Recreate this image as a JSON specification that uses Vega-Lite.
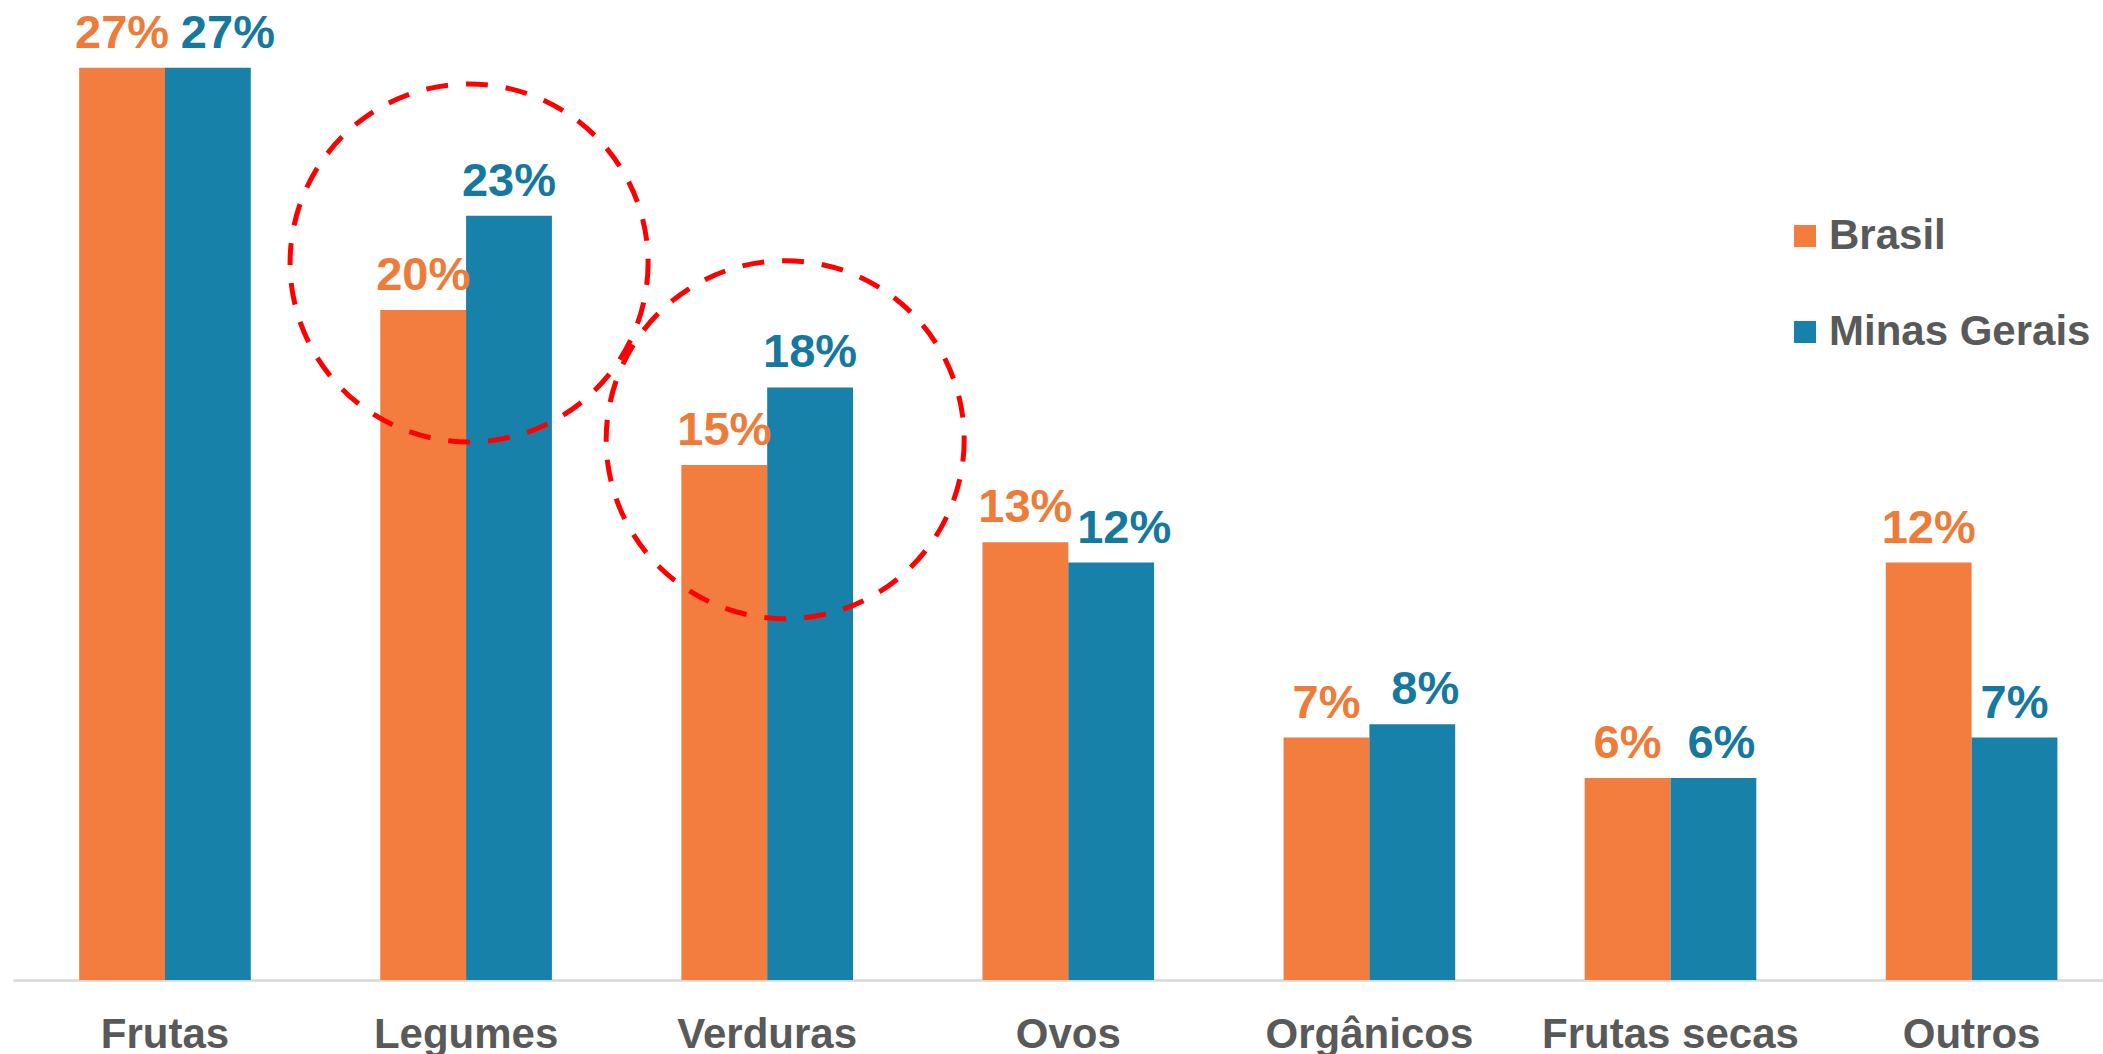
{
  "$schema": "https://vega.github.io/schema/vega-lite/v6.json",
  "width": 2090,
  "height": 980,
  "autosize": {"type": "none"},
  "padding": {"left": 13, "top": 0, "right": 0, "bottom": 74},
  "background": "#FFFFFF",
  "config": {"view": {"stroke": null}, "font": "Liberation Sans"},
  "datasets": {
    "bars": [
      {"categoria": "Frutas", "serie": "Brasil", "valor": 0.271},
      {"categoria": "Frutas", "serie": "Minas Gerais", "valor": 0.271},
      {"categoria": "Legumes", "serie": "Brasil", "valor": 0.199},
      {"categoria": "Legumes", "serie": "Minas Gerais", "valor": 0.227},
      {"categoria": "Verduras", "serie": "Brasil", "valor": 0.153},
      {"categoria": "Verduras", "serie": "Minas Gerais", "valor": 0.176},
      {"categoria": "Ovos", "serie": "Brasil", "valor": 0.130},
      {"categoria": "Ovos", "serie": "Minas Gerais", "valor": 0.124},
      {"categoria": "Orgânicos", "serie": "Brasil", "valor": 0.072},
      {"categoria": "Orgânicos", "serie": "Minas Gerais", "valor": 0.076},
      {"categoria": "Frutas secas", "serie": "Brasil", "valor": 0.060},
      {"categoria": "Frutas secas", "serie": "Minas Gerais", "valor": 0.060},
      {"categoria": "Outros", "serie": "Brasil", "valor": 0.124},
      {"categoria": "Outros", "serie": "Minas Gerais", "valor": 0.072}
    ],
    "circulo1": [{"categoria": "Legumes", "valor": 0.213}],
    "circulo2": [{"categoria": "Verduras", "valor": 0.1605}]
  },
  "encoding": {
    "x": {
      "field": "categoria",
      "type": "nominal",
      "sort": ["Frutas", "Legumes", "Verduras", "Ovos", "Orgânicos", "Frutas secas", "Outros"],
      "scale": {"paddingInner": 0.43, "paddingOuter": 0.1856, "align": 0.592},
      "axis": {
        "title": null,
        "labelAngle": 0,
        "labelFont": "Liberation Sans",
        "labelFontSize": 42,
        "labelFontWeight": "bold",
        "labelColor": "#595959",
        "labelBaseline": "top",
        "labelPadding": 34,
        "labelLimit": 400,
        "labelOverlap": false,
        "ticks": false,
        "domainColor": "#D9D9D9",
        "domainWidth": 2.5,
        "grid": false
      }
    },
    "y": {
      "field": "valor",
      "type": "quantitative",
      "scale": {"domain": [0, 0.2911], "nice": false, "zero": true},
      "axis": null
    }
  },
  "layer": [
    {
      "data": {"name": "bars"},
      "mark": {"type": "bar"},
      "encoding": {
        "xOffset": {"field": "serie", "type": "nominal", "sort": ["Brasil", "Minas Gerais"]},
        "color": {
          "field": "serie",
          "type": "nominal",
          "scale": {"domain": ["Brasil", "Minas Gerais"], "range": ["#F27D3E", "#1781AA"]},
          "legend": {
            "orient": "none",
            "legendX": 1771,
            "legendY": 215,
            "title": null,
            "symbolType": "square",
            "symbolSize": 484,
            "symbolStrokeWidth": 0,
            "symbolOpacity": 1,
            "labelFont": "Liberation Sans",
            "labelFontSize": 42,
            "labelFontWeight": "bold",
            "labelColor": "#595959",
            "labelOffset": 3,
            "labelLimit": 400,
            "rowPadding": 54,
            "padding": 0
          }
        }
      }
    },
    {
      "data": {"name": "bars"},
      "transform": [{"filter": "datum.serie === 'Brasil' || datum.categoria === 'Legumes' || datum.categoria === 'Verduras' || datum.categoria === 'Outros'"}],
      "mark": {"type": "text", "baseline": "alphabetic", "dy": -20, "fontSize": 47, "fontWeight": "bold", "font": "Liberation Sans"},
      "encoding": {
        "xOffset": {"field": "serie", "type": "nominal", "sort": ["Brasil", "Minas Gerais"]},
        "text": {"field": "valor", "type": "quantitative", "format": ".0%"},
        "color": {"condition": {"test": "datum.serie === 'Brasil'", "value": "#EE7B38"}, "value": "#14789F"}
      }
    },
    {
      "data": {"name": "bars"},
      "transform": [{"filter": "datum.serie === 'Minas Gerais' && datum.categoria === 'Frutas'"}],
      "mark": {"type": "text", "baseline": "alphabetic", "dy": -20, "dx": 20, "fontSize": 47, "fontWeight": "bold", "font": "Liberation Sans", "color": "#14789F"},
      "encoding": {
        "xOffset": {"field": "serie", "type": "nominal", "sort": ["Brasil", "Minas Gerais"]},
        "text": {"field": "valor", "type": "quantitative", "format": ".0%"}
      }
    },
    {
      "data": {"name": "bars"},
      "transform": [{"filter": "datum.serie === 'Minas Gerais' && (datum.categoria === 'Ovos' || datum.categoria === 'Orgânicos')"}],
      "mark": {"type": "text", "baseline": "alphabetic", "dy": -20, "dx": 13, "fontSize": 47, "fontWeight": "bold", "font": "Liberation Sans", "color": "#14789F"},
      "encoding": {
        "xOffset": {"field": "serie", "type": "nominal", "sort": ["Brasil", "Minas Gerais"]},
        "text": {"field": "valor", "type": "quantitative", "format": ".0%"}
      }
    },
    {
      "data": {"name": "bars"},
      "transform": [{"filter": "datum.serie === 'Minas Gerais' && datum.categoria === 'Frutas secas'"}],
      "mark": {"type": "text", "baseline": "alphabetic", "dy": -20, "dx": 8, "fontSize": 47, "fontWeight": "bold", "font": "Liberation Sans", "color": "#14789F"},
      "encoding": {
        "xOffset": {"field": "serie", "type": "nominal", "sort": ["Brasil", "Minas Gerais"]},
        "text": {"field": "valor", "type": "quantitative", "format": ".0%"}
      }
    },
    {
      "data": {"name": "circulo1"},
      "mark": {"type": "point", "shape": "circle", "size": 128164, "filled": false, "stroke": "#FF0000", "strokeWidth": 5, "strokeDash": [22, 18], "opacity": 1, "xOffset": 3},
      "encoding": {}
    },
    {
      "data": {"name": "circulo2"},
      "mark": {"type": "point", "shape": "circle", "size": 128164, "filled": false, "stroke": "#FF0000", "strokeWidth": 5, "strokeDash": [22, 18], "opacity": 1, "xOffset": 18},
      "encoding": {}
    }
  ]
}
